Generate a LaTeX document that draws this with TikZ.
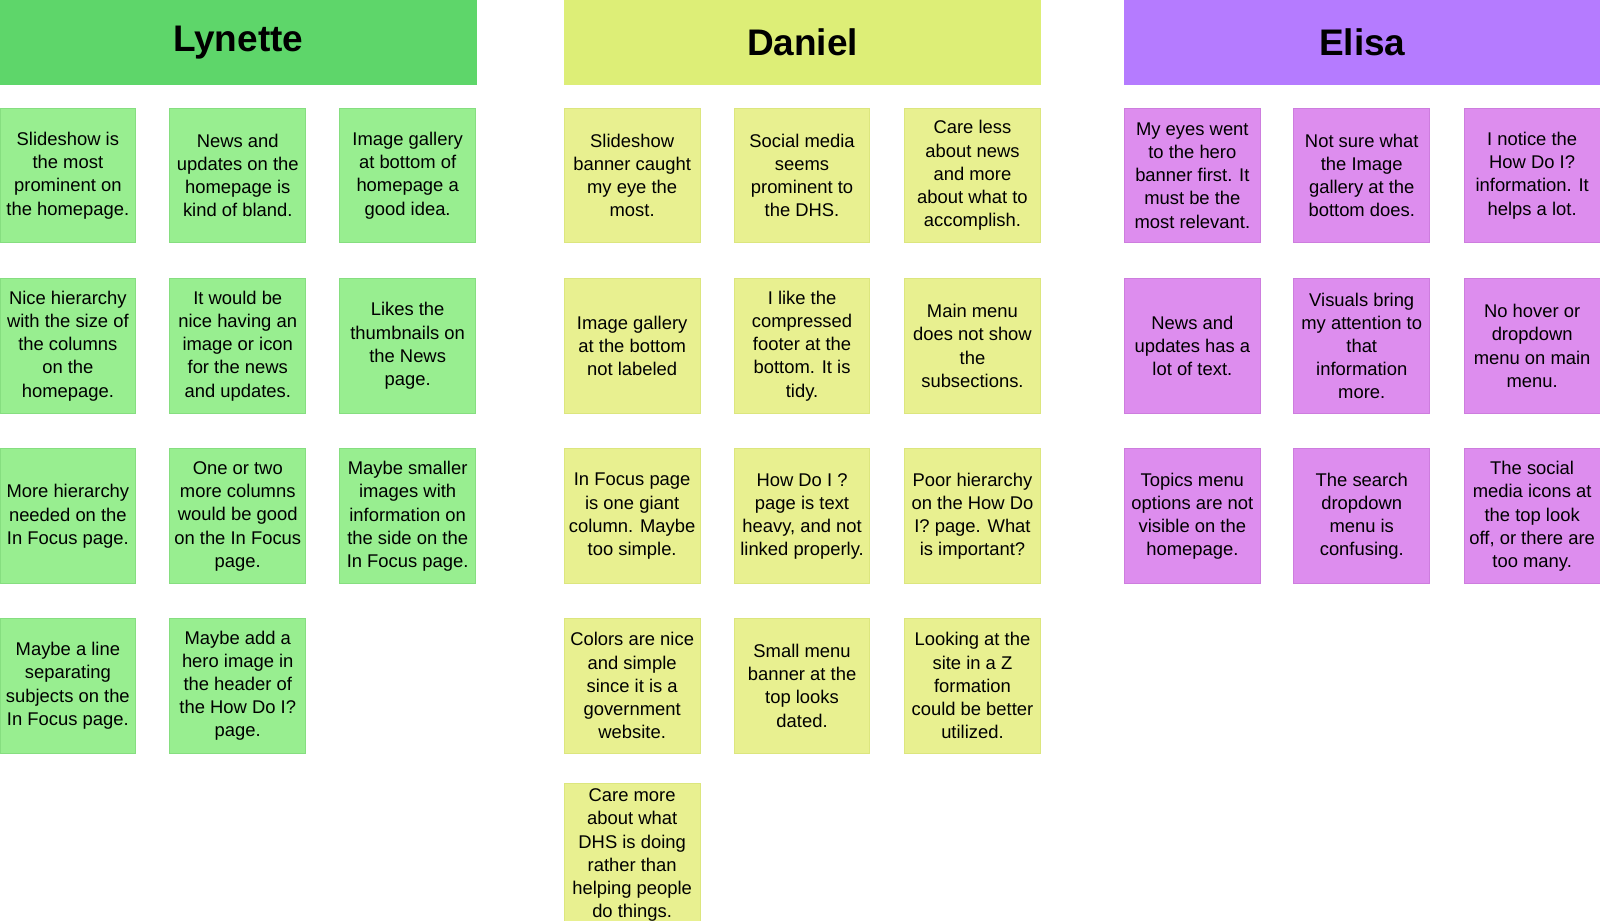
\documentclass[tikz,border=0pt]{standalone}
\usepackage{fontspec}
\setmainfont{Liberation Sans}
\definecolor{lh}{HTML}{5ED66A}\definecolor{ls}{HTML}{98EE90}\definecolor{lb}{HTML}{86DE80}
\definecolor{dh}{HTML}{DDEE77}\definecolor{ds}{HTML}{E8F090}\definecolor{db}{HTML}{DCE67E}
\definecolor{eh}{HTML}{B57BFF}\definecolor{es}{HTML}{DD8DEE}\definecolor{eb}{HTML}{CD7DDE}
\begin{document}
\begin{tikzpicture}[x=1.0204pt,y=-1.0204pt,
 hdr/.style={minimum width=476.5pt,minimum height=84.7pt,inner sep=0pt,font=\fontsize{37}{41}\selectfont\bfseries},
 sticky/.style={minimum width=135.7pt,minimum height=134.7pt,inner sep=0pt,line width=1pt,align=center,font=\fontsize{18.4}{23.2}\selectfont}]
\useasboundingbox (0,0) rectangle (1568,901.6);
\node[hdr,fill=lh] (hl) at (233.5,41.5) {Lynette};
\node[hdr,fill=dh] (hd) at (786.5,41.5) {Daniel};
\node[hdr,fill=eh] (he) at (1335,41.5) {Elisa};
\tikzset{L/.style={sticky,fill=ls,draw=lb},D/.style={sticky,fill=ds,draw=db},E/.style={sticky,fill=es,draw=eb}}
% Lynette
\node[L] (l1) at (66.5,172) {Slideshow is\\the most\\prominent on\\the homepage.};
\node[L] (l2) at (233,172) {News and\\updates on the\\homepage is\\kind of bland.};
\node[L] (l3) at (399.5,172) {Image gallery\\at bottom of\\homepage a\\good idea.};
\node[L] (l4) at (66.5,339) {Nice hierarchy\\with the size of\\the columns\\on the\\homepage.};
\node[L] (l5) at (233,339) {It would be\\nice having an\\image or icon\\for the news\\and updates.};
\node[L] (l6) at (399.5,339) {Likes the\\thumbnails on\\the News\\page.};
\node[L] (l7) at (66.5,506) {More hierarchy\\needed on the\\In Focus page.};
\node[L] (l8) at (233,506) {One or two\\more columns\\would be good\\on the In Focus\\page.};
\node[L] (l9) at (399.5,506) {Maybe smaller\\images with\\information on\\the side on the\\In Focus page.};
\node[L] (l10) at (66.5,672) {Maybe a line\\separating\\subjects on the\\In Focus page.};
\node[L] (l11) at (233,672) {Maybe add a\\hero image in\\the header of\\the How Do I?\\page.};
% Daniel
\node[D] (d1) at (619.5,172) {Slideshow\\banner caught\\my eye the\\most.};
\node[D] (d2) at (786,172) {Social media\\seems\\prominent to\\the DHS.};
\node[D] (d3) at (953,172) {Care less\\about news\\and more\\about what to\\accomplish.};
\node[D] (d4) at (619.5,339) {Image gallery\\at the bottom\\not labeled};
\node[D] (d5) at (786,339) {I like the\\compressed\\footer at the\\bottom. It is\\tidy.};
\node[D] (d6) at (953,339) {Main menu\\does not show\\the\\subsections.};
\node[D] (d7) at (619.5,506) {In Focus page\\is one giant\\column. Maybe\\too simple.};
\node[D] (d8) at (786,506) {How Do I ?\\page is text\\heavy, and not\\linked properly.};
\node[D] (d9) at (953,506) {Poor hierarchy\\on the How Do\\I? page. What\\is important?};
\node[D] (d10) at (619.5,672) {Colors are nice\\and simple\\since it is a\\government\\website.};
\node[D] (d11) at (786,672) {Small menu\\banner at the\\top looks\\dated.};
\node[D] (d12) at (953,672) {Looking at the\\site in a Z\\formation\\could be better\\utilized.};
\begin{scope}
\clip (540,760) rectangle (700,901.6);
\node[D,minimum height=143pt] (d13) at (619.5,838) {Care more\\about what\\DHS is doing\\rather than\\helping people\\do things.};
\end{scope}
% Elisa
\node[E] (e1) at (1168.5,172) {My eyes went\\to the hero\\banner first. It\\must be the\\most relevant.};
\node[E] (e2) at (1334.5,172) {Not sure what\\the Image\\gallery at the\\bottom does.};
\node[E] (e3) at (1501.5,172) {I notice the\\How Do I?\\information. It\\helps a lot.};
\node[E] (e4) at (1168.5,339) {News and\\updates has a\\lot of text.};
\node[E] (e5) at (1334.5,339) {Visuals bring\\my attention to\\that\\information\\more.};
\node[E] (e6) at (1501.5,339) {No hover or\\dropdown\\menu on main\\menu.};
\node[E] (e7) at (1168.5,506) {Topics menu\\options are not\\visible on the\\homepage.};
\node[E] (e8) at (1334.5,506) {The search\\dropdown\\menu is\\confusing.};
\node[E] (e9) at (1501.5,506) {The social\\media icons at\\the top look\\off, or there are\\too many.};
\end{tikzpicture}
\end{document}
